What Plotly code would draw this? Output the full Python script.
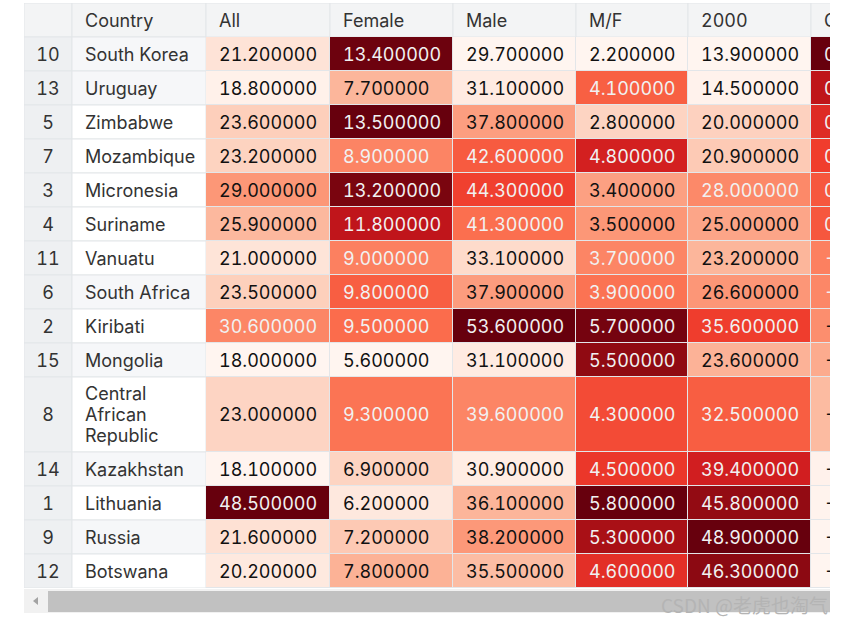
import plotly.graph_objects as go

# ---------------- data ----------------
index_labels = [10, 13, 5, 7, 3, 4, 11, 6, 2, 15, 8, 14, 1, 9, 12]
countries = ["South Korea", "Uruguay", "Zimbabwe", "Mozambique", "Micronesia",
             "Suriname", "Vanuatu", "South Africa", "Kiribati", "Mongolia",
             "Central African Republic", "Kazakhstan", "Lithuania", "Russia", "Botswana"]
all_rate = [21.2, 18.8, 23.6, 23.2, 29.0, 25.9, 21.0, 23.5, 30.6, 18.0, 23.0, 18.1, 48.5, 21.6, 20.2]
female = [13.4, 7.7, 13.5, 8.9, 13.2, 11.8, 9.0, 9.8, 9.5, 5.6, 9.3, 6.9, 6.2, 7.2, 7.8]
male = [29.7, 31.1, 37.8, 42.6, 44.3, 41.3, 33.1, 37.9, 53.6, 31.1, 39.6, 30.9, 36.1, 38.2, 35.5]
mf_ratio = [2.2, 4.1, 2.8, 4.8, 3.4, 3.5, 3.7, 3.9, 5.7, 5.5, 4.3, 4.5, 5.8, 5.3, 4.6]
rate_2000 = [13.9, 14.5, 20.0, 20.9, 28.0, 25.0, 23.2, 26.6, 35.6, 23.6, 32.5, 39.4, 45.8, 48.9, 46.3]
change = [0.525180, 0.296552, 0.180000, 0.110048, 0.035714, 0.036000, -0.094828, -0.116541,
          -0.140449, -0.237288, -0.292308, -0.540609, -0.550000, -0.558282, -0.563715]

headers = ["", "Country", "All", "Female", "Male", "M/F", "2000", "Change"]
num_columns = [all_rate, female, male, mf_ratio, rate_2000, change]
striped = [True, True, False, False, False, False, False, True, False, True, False, True, False, True, False]

# ---------------- layout constants (pixels) ----------------
col_edges = [24, 72, 206, 330, 453, 576, 688, 811, 934]
header_top, header_bot = 3, 37
row_heights = [34] * 10 + [75] + [34] * 4
row_edges = [header_bot]
for h in row_heights:
    row_edges.append(row_edges[-1] + h)
X_LEFT, X_RIGHT = 24, 830
Y_TOP, Y_BOT = header_top, row_edges[-1]
W, H = 846, 622

GRID = "#e3e6e9"
HEADER_BG = "#f3f4f5"
INDEX_BG = "#eef0f2"
STRIPE_BG = "#f6f7f9"
TEXT = "#333333"
FONT = "Inter"
FS = 18
TEXT_DY = 2        # baseline nudge of cell text (pixels)
LINE_GAP = 21      # line spacing for wrapped cells (pixels)

REDS = ["#fff5f0", "#fee0d2", "#fcbba1", "#fc9272", "#fb6a4a",
        "#ef3b2c", "#cb181d", "#a50f15", "#67000d"]


def hex2rgb(h):
    h = h.lstrip("#")
    return [int(h[i:i + 2], 16) for i in (0, 2, 4)]


def reds(t):
    t = min(max(t, 0.0), 1.0)
    p = t * (len(REDS) - 1)
    i = min(int(p), len(REDS) - 2)
    f = p - i
    a, b = hex2rgb(REDS[i]), hex2rgb(REDS[i + 1])
    return [a[k] + (b[k] - a[k]) * f for k in range(3)]


def luminance(rgb):
    out = []
    for c in rgb:
        c = c / 255.0
        out.append(c / 12.92 if c <= 0.03928 else ((c + 0.055) / 1.055) ** 2.4)
    return 0.2126 * out[0] + 0.7152 * out[1] + 0.0722 * out[2]


# normalized per column (pandas background_gradient, axis=0)
z = [[0.0] * len(num_columns) for _ in countries]
text_colors = [[None] * len(num_columns) for _ in countries]
for j, col in enumerate(num_columns):
    lo, hi = min(col), max(col)
    for i, v in enumerate(col):
        t = (v - lo) / (hi - lo)
        z[i][j] = t
        text_colors[i][j] = "#f1f1f1" if luminance(reds(t)) < 0.408 else "#111111"

fig = go.Figure()

fig.add_trace(go.Heatmap(
    x=col_edges[2:], y=row_edges, z=z,
    colorscale=[[k / (len(REDS) - 1), c] for k, c in enumerate(REDS)],
    zmin=0, zmax=1, showscale=False, xgap=1, ygap=1, hoverinfo="skip",
))

shapes = []
# header cells
for j in range(len(headers)):
    shapes.append(dict(type="rect", xref="x", yref="y", layer="below",
                       x0=col_edges[j], x1=col_edges[j + 1], y0=header_top, y1=header_bot,
                       fillcolor=HEADER_BG, line=dict(color=GRID, width=1)))
# index and country cells
for i in range(len(countries)):
    y0, y1 = row_edges[i], row_edges[i + 1]
    shapes.append(dict(type="rect", xref="x", yref="y", layer="below",
                       x0=col_edges[0], x1=col_edges[1], y0=y0, y1=y1,
                       fillcolor=INDEX_BG, line=dict(color=GRID, width=1)))
    shapes.append(dict(type="rect", xref="x", yref="y", layer="below",
                       x0=col_edges[1], x1=col_edges[2], y0=y0, y1=y1,
                       fillcolor=STRIPE_BG if striped[i] else "#ffffff",
                       line=dict(color=GRID, width=1)))

row_centers = [(row_edges[i] + row_edges[i + 1]) / 2 + TEXT_DY for i in range(len(countries))]
pad = 13

# header text
fig.add_trace(go.Scatter(
    x=[col_edges[j] + pad for j in range(1, len(headers))],
    y=[(header_top + header_bot) / 2 + TEXT_DY] * (len(headers) - 1),
    text=headers[1:], mode="text", textposition="middle right",
    textfont=dict(family=FONT, size=FS, color=TEXT), cliponaxis=True, hoverinfo="skip",
))
# index text
fig.add_trace(go.Scatter(
    x=[(col_edges[0] + col_edges[1]) / 2] * len(index_labels), y=row_centers,
    text=[str(v) for v in index_labels], mode="text", textposition="middle center",
    textfont=dict(family=FONT, size=FS, color=TEXT), cliponaxis=True, hoverinfo="skip",
))
# country text (long names wrap one word per line, as in the narrow column)
cx, cy, ct = [], [], []
for i, c in enumerate(countries):
    words = c.split(" ") if len(c) > 14 else [c]
    n = len(words)
    for k, w in enumerate(words):
        cx.append(col_edges[1] + pad)
        cy.append(row_centers[i] + (k - (n - 1) / 2) * LINE_GAP)
        ct.append(w)
fig.add_trace(go.Scatter(
    x=cx, y=cy, text=ct, mode="text", textposition="middle right",
    textfont=dict(family=FONT, size=FS, color=TEXT), cliponaxis=True, hoverinfo="skip",
))
# numeric text
for j, col in enumerate(num_columns):
    fig.add_trace(go.Scatter(
        x=[col_edges[j + 2] + pad] * len(col), y=row_centers,
        text=["%.6f" % v for v in col], mode="text", textposition="middle right",
        textfont=dict(family=FONT, size=FS, color=[text_colors[i][j] for i in range(len(col))]),
        cliponaxis=True, hoverinfo="skip",
    ))

# scrollbar (paper coordinates)
pw, ph = X_RIGHT - X_LEFT, Y_BOT - Y_TOP


def px(xp):
    return (xp - X_LEFT) / pw


def py(yp):
    return (Y_BOT - yp) / ph


shapes.append(dict(type="rect", xref="paper", yref="paper", x0=px(24), x1=px(830),
                   y0=py(613), y1=py(589), fillcolor="#f1f1f1", line=dict(width=0)))
shapes.append(dict(type="rect", xref="paper", yref="paper", x0=px(48), x1=px(830),
                   y0=py(612), y1=py(591), fillcolor="#c1c1c1", line=dict(width=0)))
shapes.append(dict(type="path", xref="paper", yref="paper",
                   path="M %f %f L %f %f L %f %f Z" % (px(33), py(601), px(38), py(597), px(38), py(605)),
                   fillcolor="#a3a3a3", line=dict(width=0)))

fig.update_layout(
    width=W, height=H,
    margin=dict(l=X_LEFT, r=W - X_RIGHT, t=Y_TOP, b=H - Y_BOT),
    paper_bgcolor="#ffffff", plot_bgcolor=GRID,
    showlegend=False, shapes=shapes,
    xaxis=dict(range=[X_LEFT, X_RIGHT], visible=False, fixedrange=True),
    yaxis=dict(range=[Y_BOT, Y_TOP], visible=False, fixedrange=True),
    annotations=[dict(text="CSDN @老虎也淘气", xref="paper", yref="paper", x=1.0, y=py(604),
                      xanchor="right", yanchor="middle", showarrow=False,
                      font=dict(family="Noto Sans CJK SC", size=19, color="#b4b4b4"))],
)

page_css = (
    "document.body.style.margin='0px';"
    "var st=document.createElement('style');"
    "st.textContent='.main-svg text{font-feature-settings:\"tnum\" 1;font-variant-numeric:tabular-nums;}';"
    "document.head.appendChild(st);"
)

fig.write_html("out.html", config={"displayModeBar": False, "staticPlot": True},
               post_script=page_css)
